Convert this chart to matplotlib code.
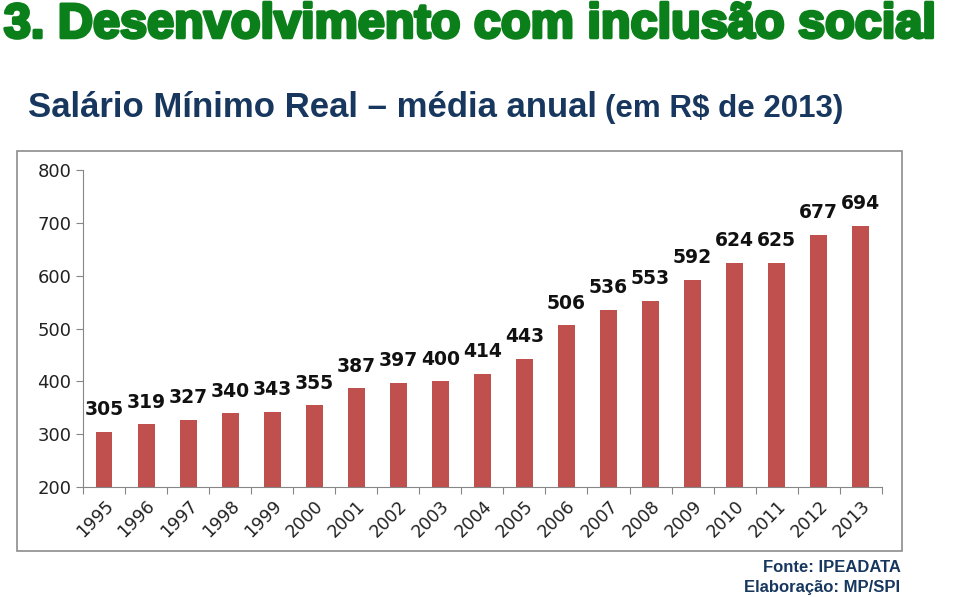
import matplotlib.pyplot as plt
import matplotlib.patheffects as pe
from matplotlib.patches import Rectangle

years = ['1995', '1996', '1997', '1998', '1999', '2000', '2001', '2002', '2003',
         '2004', '2005', '2006', '2007', '2008', '2009', '2010', '2011', '2012', '2013']
salario = [305, 319, 327, 340, 343, 355, 387, 397, 400,
           414, 443, 506, 536, 553, 592, 624, 625, 677, 694]

fig = plt.figure(figsize=(9.6, 5.97), dpi=100)

# titles
fig.text(0.004, 0.937, '3. Desenvolvimento com inclusão social', color='#0B7F1A',
         fontsize=35, fontweight='bold', family=['Liberation Sans', 'DejaVu Sans'],
         va='baseline', ha='left',
         path_effects=[pe.withStroke(linewidth=2.4, foreground='#0B7F1A')])
fig.text(0.029, 0.82, 'Salário Mínimo Real – média anual', color='#17375E',
         fontsize=25, fontweight='bold', family='Liberation Sans',
         va='center', ha='left')
fig.text(0.63, 0.817, '(em R$ de 2013)', color='#17375E', fontsize=22.5,
         fontweight='bold', family='Liberation Sans', va='center', ha='left')

# frame around the chart
fig.patches.append(Rectangle((17 / 960, 1 - 551 / 597), 885 / 960, 400 / 597,
                             transform=fig.transFigure, fill=False,
                             edgecolor='#8C8C8C', linewidth=1.2))

ax = fig.add_axes([0.0865, 0.184, 0.832, 0.531])
x = range(len(years))
ax.bar(x, salario, width=0.4, color='#C0504D', zorder=2)
ax.set_ylim(200, 800)
ax.set_xlim(-0.5, len(years) - 0.5)
ax.set_yticks(range(200, 801, 100))
ax.set_xticks([i - 0.5 for i in range(len(years) + 1)], minor=False)
ax.set_xticklabels([])
ax.set_xticks(list(x), minor=True)
ax.set_xticklabels(years, minor=True, rotation=45, ha='right', va='top',
                   rotation_mode='anchor', fontsize=12.5, color='#222222')
ax.tick_params(axis='x', which='minor', length=0, pad=7)
ax.tick_params(axis='x', which='major', length=5, color='#868686', direction='out')
ax.tick_params(axis='y', length=5, color='#868686', labelsize=13, labelcolor='#222222')
for s in ['top', 'right']:
    ax.spines[s].set_visible(False)
for s in ['left', 'bottom']:
    ax.spines[s].set_color('#868686')

for i, v in enumerate(salario):
    ax.text(i, v + 24, str(v), ha='center', va='bottom', fontsize=13.5,
            fontweight='bold', color='#111111')

fig.text(0.938, 0.05, 'Fonte: IPEADATA', color='#17375E', fontsize=12,
         fontweight='bold', ha='right', va='center', family='Liberation Sans')
fig.text(0.938, 0.016, 'Elaboração: MP/SPI', color='#17375E', fontsize=12,
         fontweight='bold', ha='right', va='center', family='Liberation Sans')

fig.savefig('out.png', dpi=100)
